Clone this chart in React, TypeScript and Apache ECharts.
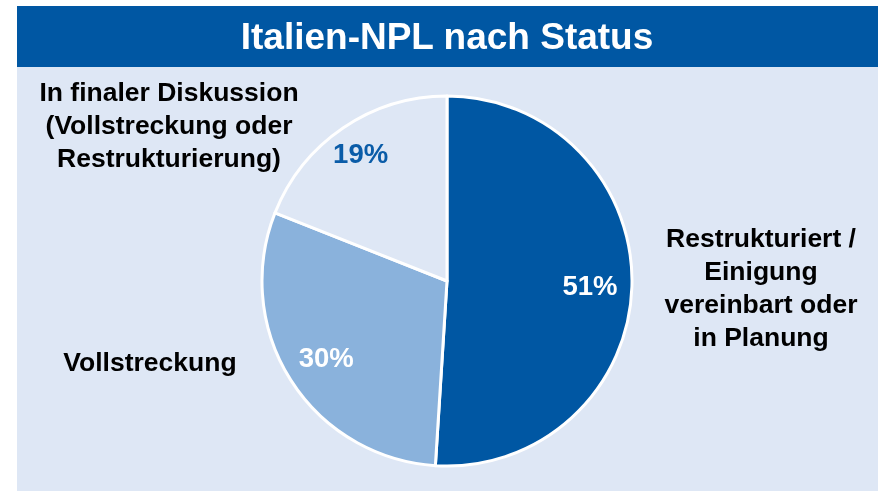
import React, { useEffect, useRef } from "react";
import * as echarts from "echarts";

const titleText = "Italien-NPL nach Status";
const categories = [
  "Restrukturiert / Einigung vereinbart oder in Planung",
  "Vollstreckung",
  "In finaler Diskussion (Vollstreckung oder Restrukturierung)",
];
const categoryLines = [
  ["Restrukturiert /", "Einigung", "vereinbart oder", "in Planung"],
  ["Vollstreckung"],
  ["In finaler Diskussion", "(Vollstreckung oder", "Restrukturierung)"],
];
const values = [51, 30, 19];
const sliceColors = ["#0057A3", "#8AB2DC", "#DEE7F5"];
const pctColors = ["#FFFFFF", "#FFFFFF", "#0A5CA8"];

export default function App() {
  const ref = useRef<HTMLDivElement>(null);
  useEffect(() => {
    if (!ref.current) return;
    const chart = echarts.init(ref.current, null, { renderer: "svg" });
    const font = "'Liberation Sans', Arial, sans-serif";
    const labelPos = [
      { x: 761, y: 287 },
      { x: 150, y: 362 },
      { x: 169, y: 125 },
    ];
    chart.setOption({
      animation: false,
      graphic: [
        {
          type: "rect",
          z: -10,
          shape: { x: 17, y: 6, width: 861, height: 485 },
          style: { fill: "#DEE7F5" },
        },
        {
          type: "rect",
          z: -9,
          shape: { x: 17, y: 6, width: 861, height: 61 },
          style: { fill: "#0057A3" },
        },
        {
          type: "text",
          x: 447,
          y: 36,
          style: {
            text: titleText,
            fill: "#FFFFFF",
            font: `bold 37px ${font}`,
            textAlign: "center",
            textVerticalAlign: "middle",
          },
        },
        ...categoryLines.map((lines, i) => ({
          type: "text",
          x: labelPos[i].x,
          y: labelPos[i].y,
          style: {
            text: lines.join("\n"),
            fill: "#000000",
            font: `bold 26.5px ${font}`,
            lineHeight: 33,
            textAlign: "center",
            textVerticalAlign: "middle",
          },
        })),
      ],
      series: [
        {
          type: "pie",
          center: [447, 281],
          radius: [0, 185],
          startAngle: 90,
          clockwise: true,
          silent: true,
          label: { show: false },
          labelLine: { show: false },
          itemStyle: { borderColor: "#FFFFFF", borderWidth: 3 },
          data: values.map((v, i) => ({
            name: categories[i],
            value: v,
            itemStyle: { color: sliceColors[i] },
          })),
        },
        {
          type: "pie",
          center: [447, 281],
          radius: [131, 149],
          startAngle: 90,
          clockwise: true,
          silent: true,
          z: 5,
          itemStyle: { color: "transparent", borderWidth: 0 },
          labelLine: { show: false },
          data: values.map((v, i) => ({
            name: categories[i],
            value: v,
            label: {
              show: true,
              position: "inside",
              formatter: `${v}%`,
              color: pctColors[i],
              fontFamily: font,
              fontWeight: "bold",
              fontSize: 27.5,
              offset: i === 2 ? [-6, -9] : [0, 0],
            },
          })),
        },
      ],
    });
    return () => chart.dispose();
  }, []);
  return (
    <div
      ref={ref}
      style={{ position: "fixed", left: 0, top: 0, width: 881, height: 491 }}
    />
  );
}
